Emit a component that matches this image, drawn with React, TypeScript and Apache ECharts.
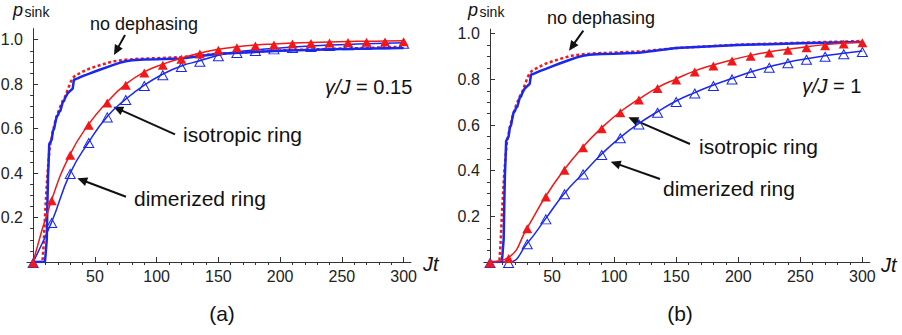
import React, { useEffect, useRef } from "react";
import * as echarts from "echarts";

// ---------------- data ----------------
const markerJt = [0, 15, 30, 45, 60, 75, 90, 105, 120, 135, 150, 165, 180, 195, 210, 225, 240, 255, 270, 285, 300];

// panel (a): gamma/J = 0.15
const isoA = [0, 0.28, 0.485, 0.62, 0.72, 0.8, 0.855, 0.89, 0.917, 0.94, 0.957, 0.968, 0.976, 0.981, 0.985, 0.988, 0.99, 0.992, 0.993, 0.994, 0.995];
const dimA = [0, 0.18, 0.4, 0.54, 0.655, 0.733, 0.796, 0.845, 0.882, 0.905, 0.93, 0.945, 0.954, 0.961, 0.967, 0.972, 0.976, 0.979, 0.982, 0.984, 0.986];

// panel (b): gamma/J = 1
const isoB = [0, 0.02, 0.15, 0.289, 0.406, 0.505, 0.588, 0.658, 0.714, 0.764, 0.802, 0.837, 0.863, 0.885, 0.905, 0.92, 0.932, 0.943, 0.952, 0.959, 0.965];
const dimB = [0, 0.0, 0.082, 0.191, 0.301, 0.388, 0.473, 0.546, 0.607, 0.658, 0.705, 0.742, 0.775, 0.804, 0.832, 0.855, 0.875, 0.89, 0.903, 0.914, 0.924];

// no dephasing (same in both panels)
const noDephIsoJt = [0, 7.5, 8.5, 9.5, 10.5, 11.5, 12.5, 13.5, 15, 16, 18, 20, 22, 24, 26, 28, 30, 32, 34, 38, 42, 46, 55, 65, 75, 85, 100, 120, 150, 200, 250, 300];
const noDephIsoP = [0, 0, 0.08, 0.2, 0.3, 0.39, 0.46, 0.52, 0.56, 0.59, 0.635, 0.67, 0.7, 0.725, 0.745, 0.775, 0.805, 0.828, 0.838, 0.85, 0.861, 0.871, 0.887, 0.903, 0.91, 0.914, 0.917, 0.922, 0.937, 0.952, 0.96, 0.968];

const noDephDimJt = [0, 9.5, 10, 10.5, 11, 11.5, 12, 12.5, 13, 14, 15, 16, 17, 18, 19, 20, 21, 22, 23, 24, 25, 26, 27, 28, 30, 31, 32, 33, 36, 40, 45, 50, 55, 60, 65, 70, 75, 80, 90, 100, 120, 150, 200, 250, 300];
const noDephDimP = [0, 0, 0.03, 0.03, 0.1, 0.25, 0.38, 0.45, 0.53, 0.54, 0.55, 0.59, 0.6, 0.63, 0.655, 0.66, 0.675, 0.68, 0.7, 0.72, 0.725, 0.74, 0.75, 0.76, 0.77, 0.775, 0.78, 0.82, 0.826, 0.836, 0.846, 0.857, 0.867, 0.877, 0.887, 0.896, 0.903, 0.908, 0.911, 0.912, 0.916, 0.937, 0.95, 0.958, 0.963];

const xMajorTicks = [50, 100, 150, 200, 250, 300];
const xMinorTicks = [10, 20, 30, 40, 60, 70, 80, 90, 110, 120, 130, 140, 160, 170, 180, 190, 210, 220, 230, 240, 260, 270, 280, 290];
const yMajorTicks = [0.2, 0.4, 0.6, 0.8, 1.0];
const yMinorTicks = [0.05, 0.1, 0.15, 0.25, 0.3, 0.35, 0.45, 0.5, 0.55, 0.65, 0.7, 0.75, 0.85, 0.9, 0.95];

const panelLabels = ["(a)", "(b)"];
const gammaValues = ["0.15", "1"];

// ---------------- styling ----------------
const FONT = '"Liberation Sans", Arial, Helvetica, sans-serif';
const RED = "#f01818";
const BLUE = "#1a28ee";
const AXIS = "#333";

const zip = (xs: number[], ys: number[]) => xs.map((x, i) => [x, ys[i]]);

function textEl(x: number, baseline: number, text: string, size: number, italic = false, align = "left") {
  return {
    type: "text",
    silent: true,
    style: {
      x,
      y: baseline - 0.33 * size,
      text,
      fill: "#111",
      font: `${italic ? "italic " : ""}${size}px ${FONT}`,
      align,
      textAlign: align,
      verticalAlign: "middle",
      textVerticalAlign: "middle",
    },
  };
}

function gammaEl(x: number, baseline: number, value: string) {
  return {
    type: "text",
    silent: true,
    style: {
      x,
      y: baseline - 0.33 * 20,
      text: `{i|γ/J} = ${value}`,
      rich: { i: { fontStyle: "italic", fontSize: 20, fontFamily: FONT, fill: "#111" } },
      fill: "#111",
      font: `20px ${FONT}`,
      verticalAlign: "middle",
      textVerticalAlign: "middle",
    },
  };
}

function arrowEl(tx: number, ty: number, px: number, py: number) {
  const dx = px - tx;
  const dy = py - ty;
  const len = Math.sqrt(dx * dx + dy * dy);
  const ux = dx / len;
  const uy = dy / len;
  const hl = 10;
  const hw = 4.5;
  const bx = px - ux * hl;
  const by = py - uy * hl;
  const nx = -uy;
  const ny = ux;
  return {
    type: "group",
    silent: true,
    children: [
      {
        type: "line",
        shape: { x1: tx, y1: ty, x2: bx + ux, y2: by + uy },
        style: { stroke: "#111", lineWidth: 2 },
      },
      {
        type: "polygon",
        shape: {
          points: [
            [px, py],
            [bx + nx * hw, by + ny * hw],
            [bx - nx * hw, by - ny * hw],
          ],
        },
        style: { fill: "#111" },
      },
    ],
  };
}

function xAxes(grid: number) {
  const base = {
    type: "value",
    gridIndex: grid,
    min: -5,
    max: 306,
    splitLine: { show: false },
  };
  return [
    {
      ...base,
      axisLine: { show: true, onZero: true, lineStyle: { color: AXIS, width: 1 } },
      axisTick: { show: true, inside: true, length: 5, customValues: xMajorTicks, lineStyle: { color: AXIS } },
      axisLabel: { show: true, customValues: xMajorTicks, fontSize: 16, color: "#222", fontFamily: FONT, margin: 6 },
    },
    {
      ...base,
      axisLine: { show: false, onZero: true },
      axisTick: { show: true, inside: true, length: 3, customValues: xMinorTicks, lineStyle: { color: AXIS } },
      axisLabel: { show: false },
    },
  ];
}

function yAxes(grid: number, max: number) {
  const base = {
    type: "value",
    gridIndex: grid,
    min: 0,
    max,
    splitLine: { show: false },
  };
  return [
    {
      ...base,
      axisLine: { show: true, onZero: true, onZeroAxisIndex: grid * 2, lineStyle: { color: AXIS, width: 1 } },
      axisTick: { show: true, inside: true, length: 5, customValues: yMajorTicks, lineStyle: { color: AXIS } },
      axisLabel: {
        show: true,
        customValues: yMajorTicks,
        fontSize: 16,
        color: "#222",
        fontFamily: FONT,
        margin: 4,
        formatter: (v: number) => v.toFixed(1),
      },
    },
    {
      ...base,
      axisLine: { show: false, onZero: true, onZeroAxisIndex: grid * 2 },
      axisTick: { show: true, inside: true, length: 3, customValues: yMinorTicks, lineStyle: { color: AXIS } },
      axisLabel: { show: false },
    },
  ];
}

function panelSeries(grid: number, iso: number[], dim: number[]) {
  const xi = grid * 2;
  const yi = grid * 2;
  return [
    {
      type: "line",
      xAxisIndex: xi,
      yAxisIndex: yi,
      data: zip(noDephIsoJt, noDephIsoP),
      showSymbol: false,
      symbol: "none",
      silent: true,
      z: 2,
      lineStyle: { color: RED, width: 2.5, type: [3, 2.5] },
    },
    {
      type: "line",
      xAxisIndex: xi,
      yAxisIndex: yi,
      data: zip(noDephDimJt, noDephDimP),
      showSymbol: false,
      symbol: "none",
      silent: true,
      z: 3,
      lineStyle: { color: BLUE, width: 2.5 },
    },
    {
      type: "line",
      xAxisIndex: xi,
      yAxisIndex: yi,
      data: zip(markerJt, dim),
      smooth: true,
      symbol: "triangle",
      symbolSize: [10, 9],
      symbolOffset: [0, 1],
      clip: false,
      silent: true,
      z: 4,
      itemStyle: { color: "rgba(255,255,255,0)", borderColor: BLUE, borderWidth: 1 },
      lineStyle: { color: BLUE, width: 1.5 },
    },
    {
      type: "line",
      xAxisIndex: xi,
      yAxisIndex: yi,
      data: zip(markerJt, iso),
      smooth: true,
      symbol: "triangle",
      symbolSize: [10, 9],
      symbolOffset: [0, 1],
      clip: false,
      silent: true,
      z: 5,
      itemStyle: { color: RED, borderWidth: 0 },
      lineStyle: { color: RED, width: 1.5 },
    },
  ];
}

export default function App() {
  const ref = useRef<HTMLDivElement>(null);

  useEffect(() => {
    if (!ref.current) return;
    const chart = echarts.init(ref.current, undefined, { renderer: "svg" });

    const graphics: any[] = [
      // axis titles (a)
      textEl(13, 15.5, "p", 18, true),
      textEl(24.5, 16.5, "sink", 14),
      textEl(423, 270.5, "Jt", 20, true),
      // axis titles (b)
      textEl(468, 15.5, "p", 18, true),
      textEl(479.5, 16.5, "sink", 14),
      textEl(881, 272, "Jt", 20, true),
      // panel labels
      textEl(222, 320.5, panelLabels[0], 21, false, "center"),
      textEl(680, 320.5, panelLabels[1], 21, false, "center"),
      // gamma labels
      gammaEl(325, 93.3, gammaValues[0]),
      gammaEl(802, 92.7, gammaValues[1]),
      // annotations (a)
      textEl(90, 30, "no dephasing", 18),
      arrowEl(125, 35, 114, 55),
      textEl(183, 141.7, "isotropic ring", 21),
      arrowEl(175, 134.3, 113.3, 106.7),
      textEl(134, 205.5, "dimerized ring", 21),
      arrowEl(126, 196.7, 77.3, 178.3),
      // annotations (b)
      textEl(547, 24, "no dephasing", 18),
      arrowEl(583.3, 30.7, 569, 50.7),
      textEl(699, 153.3, "isotropic ring", 21),
      arrowEl(690, 144, 628.3, 117.3),
      textEl(663, 195, "dimerized ring", 21),
      arrowEl(660, 179, 610.7, 161.7),
    ];

    chart.setOption({
      animation: false,
      backgroundColor: "#fff",
      textStyle: { fontFamily: FONT },
      grid: [
        { left: 27, top: 28.6, width: 384, height: 233.4, outerBoundsMode: "none", containLabel: false },
        { left: 483.8, top: 29.1, width: 386, height: 232.9, outerBoundsMode: "none", containLabel: false },
      ],
      xAxis: [...xAxes(0), ...xAxes(1)],
      yAxis: [...yAxes(0, 1.05), ...yAxes(1, 1.02)],
      series: [...panelSeries(0, isoA, dimA), ...panelSeries(1, isoB, dimB)],
      graphic: graphics,
    });

    return () => chart.dispose();
  }, []);

  return (
    <div
      ref={ref}
      style={{ position: "absolute", left: 0, top: 0, width: 902, height: 335, background: "#fff" }}
    />
  );
}
